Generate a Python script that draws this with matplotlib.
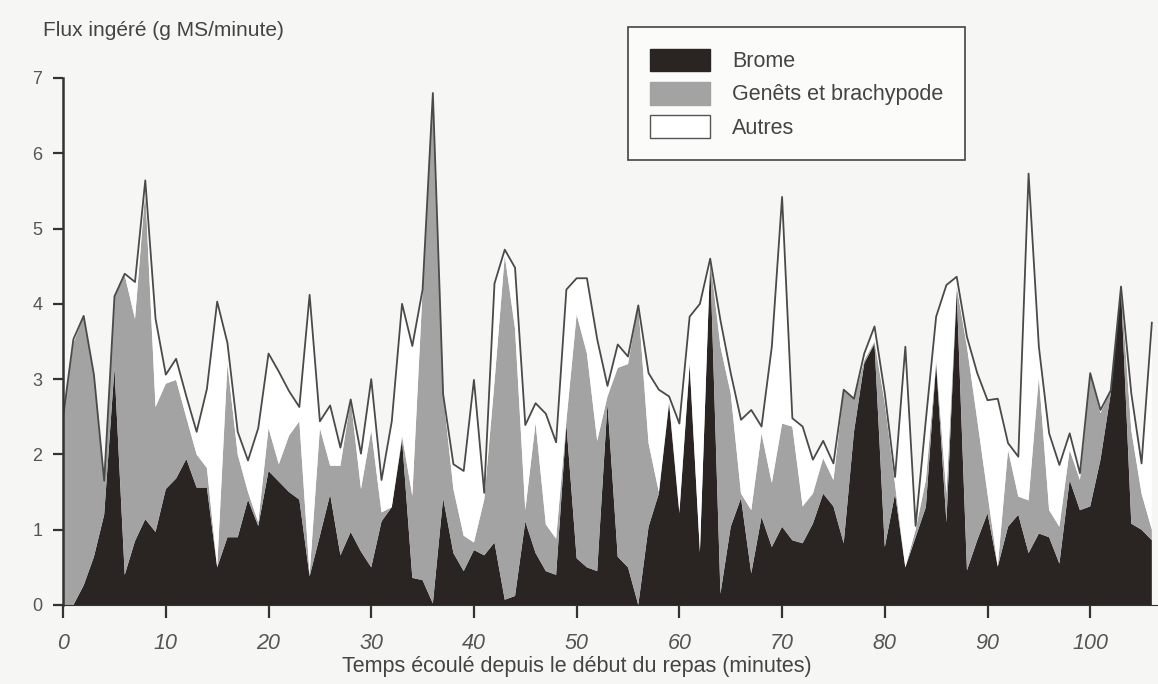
import numpy as np
import matplotlib
matplotlib.use("Agg")
import matplotlib.pyplot as plt
from matplotlib.patches import Patch

plt.rcParams['font.family'] = ['Liberation Sans', 'DejaVu Sans']

# minutes écoulées depuis le début du repas
minutes = list(range(107))

# flux ingéré par catégorie (g MS/minute)
brome = [0.00, 0.00, 0.26, 0.64, 1.20, 3.15, 0.40, 0.85, 1.14, 0.97,
         1.54, 1.68, 1.94, 1.56, 1.56, 0.50, 0.90, 0.90, 1.40, 1.05,
         1.78, 1.64, 1.50, 1.40, 0.38, 0.92, 1.47, 0.66, 0.97, 0.71,
         0.50, 1.11, 1.30, 2.20, 0.36, 0.33, 0.02, 1.42, 0.69, 0.45,
         0.73, 0.66, 0.83, 0.07, 0.12, 1.11, 0.69, 0.45, 0.40, 2.40,
         0.62, 0.50, 0.45, 2.68, 0.64, 0.50, 0.00, 1.04, 1.48, 2.68,
         1.22, 3.19, 0.70, 4.60, 0.15, 1.04, 1.42, 0.42, 1.17, 0.77,
         1.04, 0.86, 0.82, 1.08, 1.48, 1.31, 0.82, 2.30, 3.21, 3.47,
         0.77, 1.48, 0.50, 0.90, 1.30, 3.21, 1.10, 4.18, 0.46, 0.86,
         1.22, 0.51, 1.04, 1.20, 0.69, 0.95, 0.90, 0.55, 1.66, 1.26,
         1.31, 1.93, 2.81, 4.20, 1.08, 1.00, 0.86]

genets = [2.50, 3.48, 3.58, 2.42, 0.45, 0.95, 3.98, 2.95, 4.36, 1.66,
          1.40, 1.31, 0.55, 0.44, 0.26, 0.00, 2.30, 1.10, 0.10, 0.05,
          0.57, 0.23, 0.75, 1.04, 0.02, 1.43, 0.38, 1.19, 1.76, 0.83,
          1.82, 0.12, 0.00, 0.05, 1.09, 3.86, 6.78, 1.38, 0.85, 0.47,
          0.10, 0.74, 2.13, 4.57, 3.55, 0.15, 1.73, 0.62, 0.48, 0.05,
          3.24, 2.84, 1.73, 0.09, 2.51, 2.70, 3.98, 1.11, 0.02, 0.04,
          0.03, 0.03, 0.02, 0.00, 3.28, 1.77, 0.06, 0.84, 1.11, 0.85,
          1.37, 1.51, 0.49, 0.40, 0.47, 0.35, 2.04, 0.44, 0.04, 0.03,
          1.91, 0.12, 0.00, 0.10, 0.36, 0.04, 0.38, 0.05, 2.97, 1.60,
          0.26, 0.00, 1.02, 0.24, 0.70, 2.08, 0.36, 0.49, 0.40, 0.40,
          1.77, 0.62, 0.04, 0.03, 1.24, 0.48, 0.14]

autres = [0.00, 0.05, 0.00, 0.00, 0.00, 0.00, 0.02, 0.49, 0.14, 1.17,
          0.12, 0.28, 0.28, 0.30, 1.05, 3.53, 0.28, 0.30, 0.42, 1.25,
          0.99, 1.23, 0.59, 0.19, 3.72, 0.09, 0.80, 0.24, 0.00, 0.47,
          0.68, 0.43, 1.14, 1.75, 1.99, 0.00, 0.00, 0.00, 0.33, 0.86,
          2.16, 0.09, 1.31, 0.08, 0.81, 1.13, 0.26, 1.47, 1.28, 1.74,
          0.48, 1.00, 1.35, 0.14, 0.31, 0.10, 0.00, 0.93, 1.36, 0.05,
          1.16, 0.61, 3.28, 0.00, 0.35, 0.27, 0.98, 1.33, 0.09, 1.81,
          3.01, 0.11, 1.06, 0.45, 0.23, 0.22, 0.00, 0.00, 0.09, 0.20,
          0.13, 0.10, 2.93, 0.05, 0.80, 0.58, 2.77, 0.13, 0.13, 0.62,
          1.24, 2.23, 0.09, 0.53, 4.34, 0.40, 1.02, 0.82, 0.22, 0.09,
          0.00, 0.04, 0.00, 0.00, 0.49, 0.40, 2.75]

labels = ['Brome', 'Genêts et brachypode', 'Autres']
col_brome = '#2a2523'
col_genets = '#a3a3a3'
col_autres = '#ffffff'
bg = '#f6f6f4'

fig = plt.figure(figsize=(11.58, 6.84), dpi=100, facecolor=bg)
ax = fig.add_axes([0.0545, 0.1155, 0.9455, 0.7705])
ax.set_facecolor(bg)

x = np.array(minutes)
ax.stackplot(x, brome, genets, autres,
             colors=[col_brome, col_genets, col_autres], linewidth=0)
total = np.array(brome) + np.array(genets) + np.array(autres)
ax.plot(x, total, color='#4a4a4a', lw=1.3)

ax.set_xlim(0, 106.6)
ax.set_ylim(0, 7)
ax.set_xticks(range(0, 101, 10))
ax.set_yticks(range(0, 8))

for s in ['top', 'right']:
    ax.spines[s].set_visible(False)
ax.spines['left'].set_linewidth(1.8)
ax.spines['left'].set_color('#333333')
ax.spines['bottom'].set_color('#333333')
ax.tick_params(axis='both', direction='out', width=1.6,
               colors='#333333', labelcolor='#555555')
ax.tick_params(axis='y', length=7, pad=8, labelsize=13)
ax.tick_params(axis='x', length=9, pad=11, labelsize=15.5)
for lab in ax.get_xticklabels():
    lab.set_fontstyle('italic')

ax.set_xlabel('Temps écoulé depuis le début du repas (minutes)',
              fontsize=15.5, color='#444444', labelpad=1)
ax.xaxis.set_label_coords(0.469, -0.096)
fig.text(0.037, 0.956, 'Flux ingéré (g MS/minute)', fontsize=15,
         color='#444444', ha='left', va='center')

handles = [Patch(facecolor=col_brome, edgecolor=col_brome),
           Patch(facecolor=col_genets, edgecolor=col_genets),
           Patch(facecolor=col_autres, edgecolor='#555555', linewidth=1)]
leg = fig.legend(handles, labels, loc='upper left',
                 bbox_to_anchor=(0.5423, 0.9605), fontsize=15.5,
                 handlelength=2.8, handleheight=1.25, handletextpad=1.05,
                 labelspacing=0.45, borderpad=1.0, borderaxespad=0,
                 fancybox=False, framealpha=1, edgecolor='#444444')
leg.get_frame().set_linewidth(1.2)
leg.get_frame().set_facecolor('#fbfbfa')
for t in leg.get_texts():
    t.set_color('#444444')

fig.savefig('out.png', dpi=100, facecolor=bg)
